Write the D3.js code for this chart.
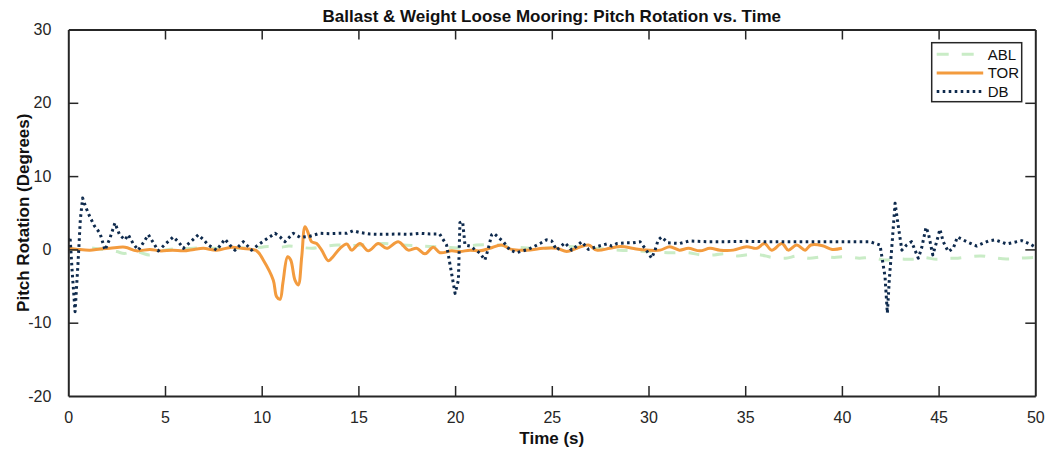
<!DOCTYPE html>
<html>
<head>
<meta charset="utf-8">
<script src="https://cdn.jsdelivr.net/npm/d3@7"></script>
<style>
  html, body { margin: 0; padding: 0; background: #fff; }
  svg { display: block; font-family: "Liberation Sans", Arial, sans-serif; }
</style>
</head>
<body>
<svg id="chart" width="1059" height="451"></svg>
<script>
// Pitch rotation time histories, [time (s), pitch (deg)]
const ablData = [[0,0.1],[0.5,0],[1,0.2],[1.5,0.1],[2,-0.1],[2.5,-0.3],[2.9,-0.55],[3.4,-0.2],[3.8,-0.5],[4.2,-0.75],[4.7,-0.3],[5.2,0],[6,0.1],[7,0.2],[8,0.1],[9,0.2],[10,0.3],[10.3,0.4],[11,0.3],[11.4,0.45],[12,0.3],[12.6,0.15],[13.2,0.4],[13.9,0.6],[14.5,0.5],[15.2,0.6],[16.3,0.8],[17.3,0.6],[18,0.5],[18.7,0.4],[19.5,0.3],[20.2,0.2],[21.1,0.6],[22.2,0.6],[23.2,0.3],[24.4,0.15],[25.8,0.4],[26.8,0.2],[27.6,0.1],[28.5,-0.1],[29.3,-0.2],[30.2,-0.3],[31,-0.45],[32.1,-0.45],[32.7,-0.75],[33.4,-0.75],[34,-0.6],[34.6,-0.9],[35.2,-0.7],[35.8,-0.75],[36.4,-1.1],[37.1,-1.2],[37.7,-0.9],[38.3,-1.2],[39,-1.0],[39.6,-1.1],[40.2,-1.0],[40.9,-1.2],[41.5,-1.1],[42.2,-1.45],[42.9,-1.3],[43.6,-1.35],[44.2,-1.1],[44.9,-1.35],[45.5,-1.2],[46,-1.2],[46.6,-1.0],[47.2,-0.9],[47.8,-1.1],[48.5,-1.3],[49.2,-1.2],[49.9,-1.1],[50,-1.1]];

const torData = [[0,0.15],[0.5,0],[1.12,-0.1],[1.64,0.05],[2.16,0.15],[2.93,0.3],[3.53,-0.2],[4.22,0.0],[4.74,-0.2],[5.4,-0.1],[5.95,-0.2],[6.5,0],[6.98,0.15],[7.67,-0.1],[8.45,0.3],[8.97,0.15],[9.74,-0.2],[10.08,-1.45],[10.6,-4.2],[10.77,-6.45],[10.95,-6.8],[11.1,-4.5],[11.34,-1.0],[11.5,-1.45],[11.72,-4.2],[11.89,-4.85],[12.07,-1.0],[12.24,3.1],[12.41,2.2],[12.58,1.05],[12.84,0.8],[13.1,-0.1],[13.44,-1.55],[13.62,-1.2],[14.05,0.15],[14.4,0.74],[14.65,-0.1],[15.08,0.8],[15.51,-0.2],[16.03,0.8],[16.46,0.15],[17.06,1.05],[17.58,-0.1],[18.01,0.15],[18.44,-0.6],[18.87,0.3],[19.22,-0.45],[19.82,-0.2],[20.25,-0.3],[20.77,-0.1],[21.28,-0.2],[21.8,0.15],[22.4,0.6],[22.92,0.0],[23.7,-0.1],[24.56,0.15],[25.25,0.15],[25.77,-0.3],[26.29,0.15],[26.89,0.6],[27.32,-0.1],[28.0,0.15],[28.53,0.4],[29.56,0.0],[30.6,-0.1],[31.1,0.37],[31.6,-0.1],[32.06,0.15],[32.66,-0.2],[33.18,0.15],[33.7,-0.1],[34.38,-0.1],[35.07,0.37],[35.6,0.15],[36.0,0.8],[36.37,-0.1],[36.9,0.8],[37.23,-0.1],[37.66,0.6],[38.1,-0.1],[38.4,0.6],[39.0,0.5],[39.5,0.0],[40.0,0.15]];

const dbData = [[0,1.2],[0.09,1.7],[0.2,-3],[0.35,-8.5],[0.5,-2],[0.62,4],[0.74,7.0],[0.9,5.8],[1.07,4.7],[1.35,3.2],[1.64,2.2],[1.9,-0.1],[2.15,1.5],[2.41,3.6],[2.65,2.0],[2.93,1.3],[3.1,2.0],[3.35,0.8],[3.62,-0.1],[3.9,1.0],[4.14,2.0],[4.4,0.9],[4.65,-0.2],[5.05,0.8],[5.43,1.7],[5.7,1.0],[5.95,0.15],[6.35,1.1],[6.72,2.0],[7.0,1.3],[7.24,0.6],[7.67,-0.1],[8.1,1.4],[8.35,0.6],[8.62,-0.1],[9.05,1.05],[9.3,0.4],[9.48,-0.1],[9.91,0.8],[10.3,1.5],[10.69,2.2],[10.95,1.7],[11.2,1.05],[11.63,2.2],[11.98,1.65],[12.5,1.8],[13.0,2.2],[13.5,2.15],[14.0,2.2],[14.4,2.2],[14.72,2.55],[15.08,2.3],[15.6,2.1],[16.2,2.05],[17,2.1],[17.6,2.05],[18.2,2.2],[18.7,2.1],[19.2,2.1],[19.56,0.6],[19.8,-3],[20.0,-6.0],[20.17,-4.2],[20.25,3.65],[20.39,3.8],[20.51,0.6],[20.77,0.46],[21.28,-0.5],[21.54,-1.45],[21.72,0.15],[21.89,2.0],[22.0,2.2],[22.49,1.05],[22.84,-0.1],[23.18,-0.45],[23.78,0.0],[24.39,0.8],[24.73,1.3],[24.99,1.15],[25.25,-0.1],[25.68,0.9],[26.03,-0.1],[26.55,1.05],[26.89,0.0],[27.32,0.37],[27.84,0.74],[28.1,0.46],[28.36,0.8],[28.8,0.9],[29.2,0.9],[29.56,1.05],[29.82,0.15],[30.16,-1.2],[30.34,-0.1],[30.5,1.3],[30.68,1.7],[31.0,0.9],[31.6,0.8],[32.1,1.15],[33,1.05],[34,1.05],[35,1.1],[36,1.05],[37,1.05],[38,1.05],[39,1.05],[40,1.05],[41,1.05],[41.45,1.05],[41.97,0.6],[42.23,-3.7],[42.35,-8.7],[42.45,-4.2],[42.6,1],[42.75,6.3],[42.92,3.1],[43.1,-0.1],[43.35,0.6],[43.6,1.05],[43.78,-0.1],[43.95,-1.2],[44.12,0.15],[44.35,3.0],[44.47,2.2],[44.7,-0.75],[44.9,1.05],[45.07,2.75],[45.24,1.05],[45.5,-0.3],[45.76,0.15],[45.97,1.7],[46.45,1.05],[46.97,0.46],[47.57,1.15],[47.92,1.3],[48.52,0.74],[49.3,1.2],[49.73,0.74],[50,0.3]];

const seriesNames = ["ABL", "TOR", "DB"];
const xTicks = [0, 5, 10, 15, 20, 25, 30, 35, 40, 45, 50];
const yTicks = [-20, -10, 0, 10, 20, 30];

const titleText = "Ballast & Weight Loose Mooring: Pitch Rotation vs. Time";
const xLabel = "Time (s)";
const yLabel = "Pitch Rotation (Degrees)";

const W = 1059, H = 451;
const margin = { top: 29.5, right: 23.7, bottom: 55, left: 68.3 };
const innerW = W - margin.left - margin.right;
const innerH = H - margin.top - margin.bottom;

const svg = d3.select("#chart");
const axisColor = "#262626";
const fontFamily = "'Liberation Sans', Arial, sans-serif";

const x = d3.scaleLinear().domain([0, 50]).range([margin.left, margin.left + innerW]);
const y = d3.scaleLinear().domain([-20, 30]).range([margin.top + innerH, margin.top]);

svg.append("defs").append("clipPath").attr("id", "plot-clip")
  .append("rect")
  .attr("x", margin.left).attr("y", margin.top)
  .attr("width", innerW).attr("height", innerH);

const styles = {
  ABL: { data: ablData, color: "#c9ecc6", width: 3, dash: "11,13", curve: d3.curveCatmullRom.alpha(0.5) },
  TOR: { data: torData, color: "#f39b3e", width: 3, dash: null, curve: d3.curveCatmullRom.alpha(0.5) },
  DB:  { data: dbData,  color: "#0e2a4d", width: 3, dash: "2.6,3.4", curve: d3.curveLinear }
};

const lines = svg.append("g").attr("clip-path", "url(#plot-clip)");
seriesNames.forEach(name => {
  const s = styles[name];
  const gen = d3.line().x(d => x(d[0])).y(d => y(d[1])).curve(s.curve);
  lines.append("path")
    .datum(s.data)
    .attr("d", gen)
    .attr("fill", "none")
    .attr("stroke", s.color)
    .attr("stroke-width", s.width)
    .attr("stroke-dasharray", s.dash)
    .attr("stroke-linejoin", "round");
});

// Box-style axes with inward ticks on all four sides
const tickLen = 10;
const axisFont = "16px";
const plainFmt = d => String(d); // hyphen-minus labels

const xBottom = svg.append("g").attr("transform", `translate(0,${margin.top + innerH})`)
  .call(d3.axisBottom(x).tickValues(xTicks).tickFormat(plainFmt).tickSizeInner(-tickLen).tickSizeOuter(0).tickPadding(16));
const xTop = svg.append("g").attr("transform", `translate(0,${margin.top})`)
  .call(d3.axisTop(x).tickValues(xTicks).tickSizeInner(-tickLen).tickSizeOuter(0).tickFormat(""));
const yLeft = svg.append("g").attr("transform", `translate(${margin.left},0)`)
  .call(d3.axisLeft(y).tickValues(yTicks).tickFormat(plainFmt).tickSizeInner(-tickLen).tickSizeOuter(0).tickPadding(17));
const yRight = svg.append("g").attr("transform", `translate(${margin.left + innerW},0)`)
  .call(d3.axisRight(y).tickValues(yTicks).tickSizeInner(-tickLen).tickSizeOuter(0).tickFormat(""));

[xBottom, xTop, yLeft, yRight].forEach(g => {
  g.select(".domain").attr("stroke", axisColor).attr("stroke-width", 2);
  g.selectAll(".tick line").attr("stroke", axisColor).attr("stroke-width", 1.5);
  g.selectAll(".tick text").attr("fill", axisColor).style("font-size", axisFont)
    .style("font-family", fontFamily);
});
// Hide end ticks that coincide with the frame
[xBottom, xTop].forEach(g => g.selectAll(".tick line").filter(d => d === 0 || d === 50).remove());
[yLeft, yRight].forEach(g => g.selectAll(".tick line").filter(d => d === -20 || d === 30).remove());

// Title and axis labels
svg.append("text")
  .attr("x", margin.left + innerW / 2).attr("y", 22)
  .attr("text-anchor", "middle")
  .style("font-size", "17px").style("font-weight", "bold").attr("fill", "#111")
  .text(titleText);

svg.append("text")
  .attr("x", margin.left + innerW / 2).attr("y", 444)
  .attr("text-anchor", "middle")
  .style("font-size", "17px").style("font-weight", "bold").attr("fill", "#111")
  .text(xLabel);

svg.append("text")
  .attr("transform", `translate(29,${margin.top + innerH / 2}) rotate(-90)`)
  .attr("text-anchor", "middle")
  .style("font-size", "17px").style("font-weight", "bold").attr("fill", "#111")
  .text(yLabel);

// Legend
const lg = svg.append("g").attr("transform", "translate(931.7,42.7)");
lg.append("rect")
  .attr("width", 90).attr("height", 59)
  .attr("fill", "#fff").attr("stroke", axisColor).attr("stroke-width", 1.5);
seriesNames.forEach((name, i) => {
  const s = styles[name];
  const yy = 11.5 + i * 18.7;
  lg.append("line")
    .attr("x1", 5).attr("x2", 51.5).attr("y1", yy).attr("y2", yy)
    .attr("stroke", s.color).attr("stroke-width", s.width)
    .attr("stroke-dasharray", name === "ABL" ? "12,13" : s.dash);
  lg.append("text")
    .attr("x", 56).attr("y", yy + 5.5)
    .style("font-size", "15px").attr("fill", "#111")
    .text(name);
});
</script>
</body>
</html>
